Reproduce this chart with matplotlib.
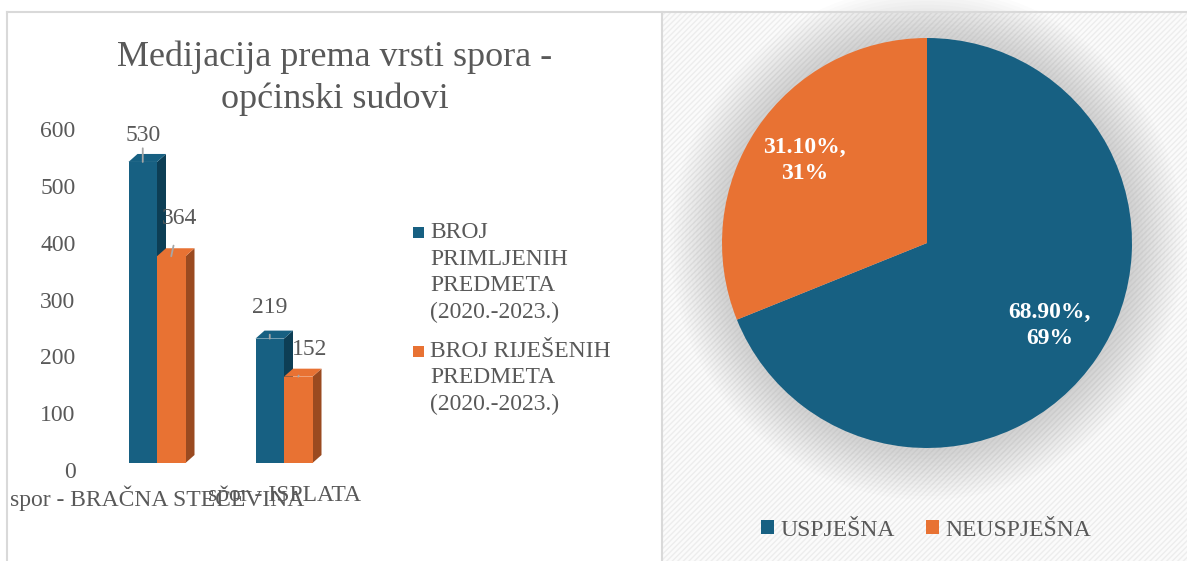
import numpy as np
import matplotlib
matplotlib.use('Agg')
import matplotlib.pyplot as plt
from matplotlib.patches import Polygon, Rectangle, Ellipse
from matplotlib.transforms import ScaledTranslation

plt.rcParams['font.family'] = ['Liberation Serif', 'DejaVu Serif']
plt.rcParams['hatch.linewidth'] = 1.0

# bar chart data
categories = ['spor - BRAČNA STEČEVINA', 'spor - ISPLATA']
received = [530, 219]
resolved = [364, 152]
series_names = ['BROJ\nPRIMLJENIH\nPREDMETA\n(2020.-2023.)',
                'BROJ RIJEŠENIH\nPREDMETA\n(2020.-2023.)']
bar_title = 'Medijacija prema vrsti spora -\nopćinski sudovi'

# pie data
pie_labels = ['USPJEŠNA', 'NEUSPJEŠNA']
pie_values = [68.90, 31.10]

BLUE = '#176082'
ORANGE = '#e87233'
BLUE_DARK = '#0d3e55'
ORANGE_DARK = '#9a4a20'
GREY = '#595959'

W, H = 1187, 561
fig = plt.figure(figsize=(W / 100, H / 100), dpi=100)

def fx(px):
    return px / W

def fy(py):
    return 1 - py / H

# frame lines and hatched background of right panel
bg = Rectangle((fx(663), 0), fx(W - 663), fy(12), transform=fig.transFigure,
               facecolor='#fbfbfb', edgecolor='#ededed', hatch='//////', lw=0, zorder=-10)
fig.add_artist(bg)
fig.add_artist(plt.Line2D([fx(7), 1], [fy(11.5), fy(11.5)], color='#d9d9d9', lw=1.5))
fig.add_artist(plt.Line2D([fx(7), fx(7)], [0, fy(11.5)], color='#d9d9d9', lw=1.5))
fig.add_artist(plt.Line2D([fx(662), fx(662)], [0, fy(11.5)], color='#d9d9d9', lw=1.5))

# ---------- left: pseudo 3D bar chart ----------
ax_px_left, ax_px_right = 95, 345
base_px, px_per_unit = 463, 0.568
ax = fig.add_axes([fx(ax_px_left), fy(base_px), fx(ax_px_right - ax_px_left), 600 * px_per_unit / H])
x0_px, step_px = 157, 127
ax.set_xlim((ax_px_left - x0_px) / step_px, (ax_px_right - x0_px) / step_px)
ax.set_ylim(0, 600)
ax.patch.set_alpha(0)
for s in ax.spines.values():
    s.set_visible(False)

x = np.arange(len(categories))
bw = 28.5 / step_px
dx = 9 / step_px
dy = 8 / px_per_unit

def bar3d(xl, h, face, side):
    ax.add_patch(Rectangle((xl, 0), bw, h, facecolor=face, edgecolor='none', zorder=3))
    ax.add_patch(Polygon([(xl, h), (xl + dx, h + dy), (xl + bw + dx, h + dy), (xl + bw, h)],
                         closed=True, facecolor=face, edgecolor='none', zorder=3))
    ax.add_patch(Polygon([(xl + bw, 0), (xl + bw + dx, dy), (xl + bw + dx, h + dy), (xl + bw, h)],
                         closed=True, facecolor=side, edgecolor='none', zorder=2))

for i in range(len(categories)):
    bar3d(x[i] - bw, received[i], BLUE, BLUE_DARK)
    bar3d(x[i], resolved[i], ORANGE, ORANGE_DARK)

# data labels with leader lines (offsets in points)
offsets_blue = [(0, 19.4), (0, 22.4)]
offsets_orange = [(5.8, 27), (8, 19.6)]
for i in range(len(categories)):
    ax.annotate(str(received[i]), xy=(x[i] - bw / 2, received[i]),
                xytext=offsets_blue[i], textcoords='offset points', ha='center', va='center',
                fontsize=17, color=GREY,
                arrowprops=dict(arrowstyle='-', color='#a6a6a6', lw=1.3, shrinkA=10, shrinkB=0), zorder=5)
    ax.annotate(str(resolved[i]), xy=(x[i] + bw / 2, resolved[i]),
                xytext=offsets_orange[i], textcoords='offset points', ha='center', va='center',
                fontsize=17, color=GREY,
                arrowprops=dict(arrowstyle='-', color='#a6a6a6', lw=1.3, shrinkA=10, shrinkB=0), zorder=5)

ax.set_xticks(x)
ax.set_xticklabels(categories, fontsize=17, color=GREY)
ax.set_yticks(np.arange(0, 601, 100))
ax.tick_params(axis='both', length=0)
ax.tick_params(axis='y', pad=14, labelsize=17, labelcolor=GREY)
ax.tick_params(axis='x', pad=16)
for lab in ax.get_yticklabels():
    lab.set_transform(lab.get_transform() + ScaledTranslation(0, -7 / 100, fig.dpi_scale_trans))

fig.text(fx(335), fy(78), bar_title, ha='center', va='center', fontsize=26, color=GREY, linespacing=1.33)

# manual legend for the bar chart
leg_tops = [232.5, 350.8]
for name, col, ty in zip(series_names, [BLUE, ORANGE], leg_tops):
    fig.add_artist(Rectangle((fx(413), fy(ty + 6)), fx(11), 11 / H, transform=fig.transFigure,
                             facecolor=col, edgecolor='none'))
    fig.text(fx(430), fy(ty - 10), name, ha='left', va='top', fontsize=17, color=GREY, linespacing=1.33)

# ---------- right: pie chart ----------
cx, cy, rx, ry = 927, 243, 218, 205
lim = 1.3
pax = fig.add_axes([fx(cx - rx * lim), fy(cy + ry * lim), fx(2 * rx * lim), 2 * ry * lim / H])
pax.axis('off')

# soft shadow around the pie
for k in range(14):
    r = 1.0 + 0.018 * (14 - k)
    pax.add_patch(Ellipse((0, 0), 2 * r, 2 * r, facecolor='#808080', edgecolor='none', alpha=0.022, zorder=0))

texts = [f'{v:.2f}%,\n{round(v)}%' for v in pie_values]
wedges, lbls = pax.pie(pie_values, colors=[BLUE, ORANGE], startangle=90, counterclock=False,
                       radius=1.0, labels=texts, labeldistance=0.72,
                       wedgeprops=dict(edgecolor='none', zorder=2),
                       textprops=dict(color='white', fontsize=17, fontweight='bold'))
for t in lbls:
    t.set_ha('center')
    t.set_va('center')
    t.set_linespacing(1.3)
    t.set_zorder(4)
pax.set_xlim(-lim, lim)
pax.set_ylim(-lim, lim)

handles = [Rectangle((0, 0), 1, 1, facecolor=c, edgecolor='none') for c in [BLUE, ORANGE]]
fig.legend(handles, pie_labels, loc='center', bbox_to_anchor=(fx(926), fy(530)), ncol=2,
           frameon=False, fontsize=17, labelcolor=GREY, handlelength=0.55, handleheight=0.55,
           handletextpad=0.3, columnspacing=1.3)

fig.savefig('out.png', dpi=100, facecolor='white')
